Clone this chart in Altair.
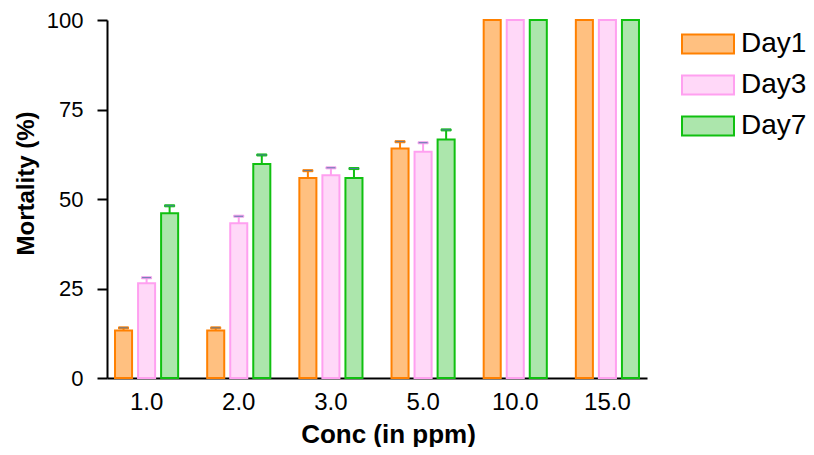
import altair as alt
import pandas as pd

concs = ["1.0", "2.0", "3.0", "5.0", "10.0", "15.0"]
days = ["Day1", "Day3", "Day7"]
day1 = [13.3, 13.3, 55.9, 64.1, 100, 100]
day3 = [26.5, 43.2, 56.6, 63.2, 100, 100]
day7 = [46.0, 59.8, 55.9, 66.6, 100, 100]
err1 = [0.7, 0.7, 2.0, 1.9, 0, 0]
err3 = [1.5, 2.0, 2.1, 2.5, 0, 0]
err7 = [2.1, 2.5, 2.6, 2.7, 0, 0]

stroke_colors = ["#FF8000", "#FFA0F0", "#10C010"]
fill_colors = ["#FFC080", "#FFD8F8", "#ACE6AC"]

rows = []
for day, vals, errs in zip(days, [day1, day3, day7], [err1, err3, err7]):
    for c, v, e in zip(concs, vals, errs):
        rows.append({"Conc": c, "Day": day, "Mortality": v, "Err": e, "Top": v + e})
df = pd.DataFrame(rows)

FONT = "Liberation Sans"

legend = alt.Legend(
    title=None, orient="none", legendX=580, legendY=3,
    symbolType="M-1.3,-0.47H1.3V0.47H-1.3Z", symbolSize=1600,
    symbolStrokeWidth=2, labelFontSize=28, labelFont=FONT, labelColor="black",
    rowPadding=6, labelOffset=12, padding=0,
)

x = alt.X("Conc:N", sort=concs,
          scale=alt.Scale(paddingInner=0.315, paddingOuter=0.087),
          axis=alt.Axis(title="Conc (in ppm)", labelAngle=0, ticks=False, tickSize=0,
                        labelPadding=12, labelFontSize=24, labelFont=FONT, labelColor="black",
                        titleFontSize=26, titleFont=FONT, titleFontWeight="bold",
                        titleColor="black", domainColor="black", domainWidth=2,
                        titleX=281, titleY=64, titleAlign="center",
                        titleBaseline="alphabetic"))
xo = alt.XOffset("Day:N", sort=days, scale=alt.Scale(paddingInner=0.26, paddingOuter=0))
fill = alt.Fill("Day:N", sort=days, scale=alt.Scale(domain=days, range=fill_colors), legend=legend)
stroke = alt.Stroke("Day:N", sort=days, scale=alt.Scale(domain=days, range=stroke_colors), legend=legend)

y_axis = alt.Axis(title="Mortality (%)", values=[0, 25, 50, 75, 100], grid=False,
                  tickSize=10, tickWidth=2, tickColor="black", domainColor="black",
                  domainWidth=2, labelFontSize=22, labelFont=FONT, labelColor="black",
                  labelPadding=14, titleFontSize=24, titleFont=FONT, titleFontWeight="bold",
                  titleColor="black", titleX=-81, titleY=163, titleAlign="center",
                  titleBaseline="middle", titleAngle=270)

base = alt.Chart(df)

bars = base.mark_bar(strokeWidth=2).encode(
    x=x, xOffset=xo,
    y=alt.Y("Mortality:Q", scale=alt.Scale(domain=[0, 100], nice=False), axis=y_axis),
    fill=fill, stroke=stroke,
)

errdf = base.transform_filter("datum.Err > 0")
rules = errdf.mark_rule(strokeWidth=2).encode(
    x=x, xOffset=xo, y="Mortality:Q", y2="Top:Q", stroke=stroke,
)
caps = errdf.mark_tick(thickness=2, size=10, opacity=1).encode(
    x=x, xOffset=xo, y="Top:Q", stroke=stroke,
)

chart = alt.layer(bars, rules, caps).properties(
    width=540, height=358,
    autosize=alt.AutoSizeParams(type="none"),
    padding={"left": 99, "top": 12, "right": 159, "bottom": 69},
).configure_view(stroke=None)

chart.save("out.html", embed_options={"renderer": "svg", "actions": False})
